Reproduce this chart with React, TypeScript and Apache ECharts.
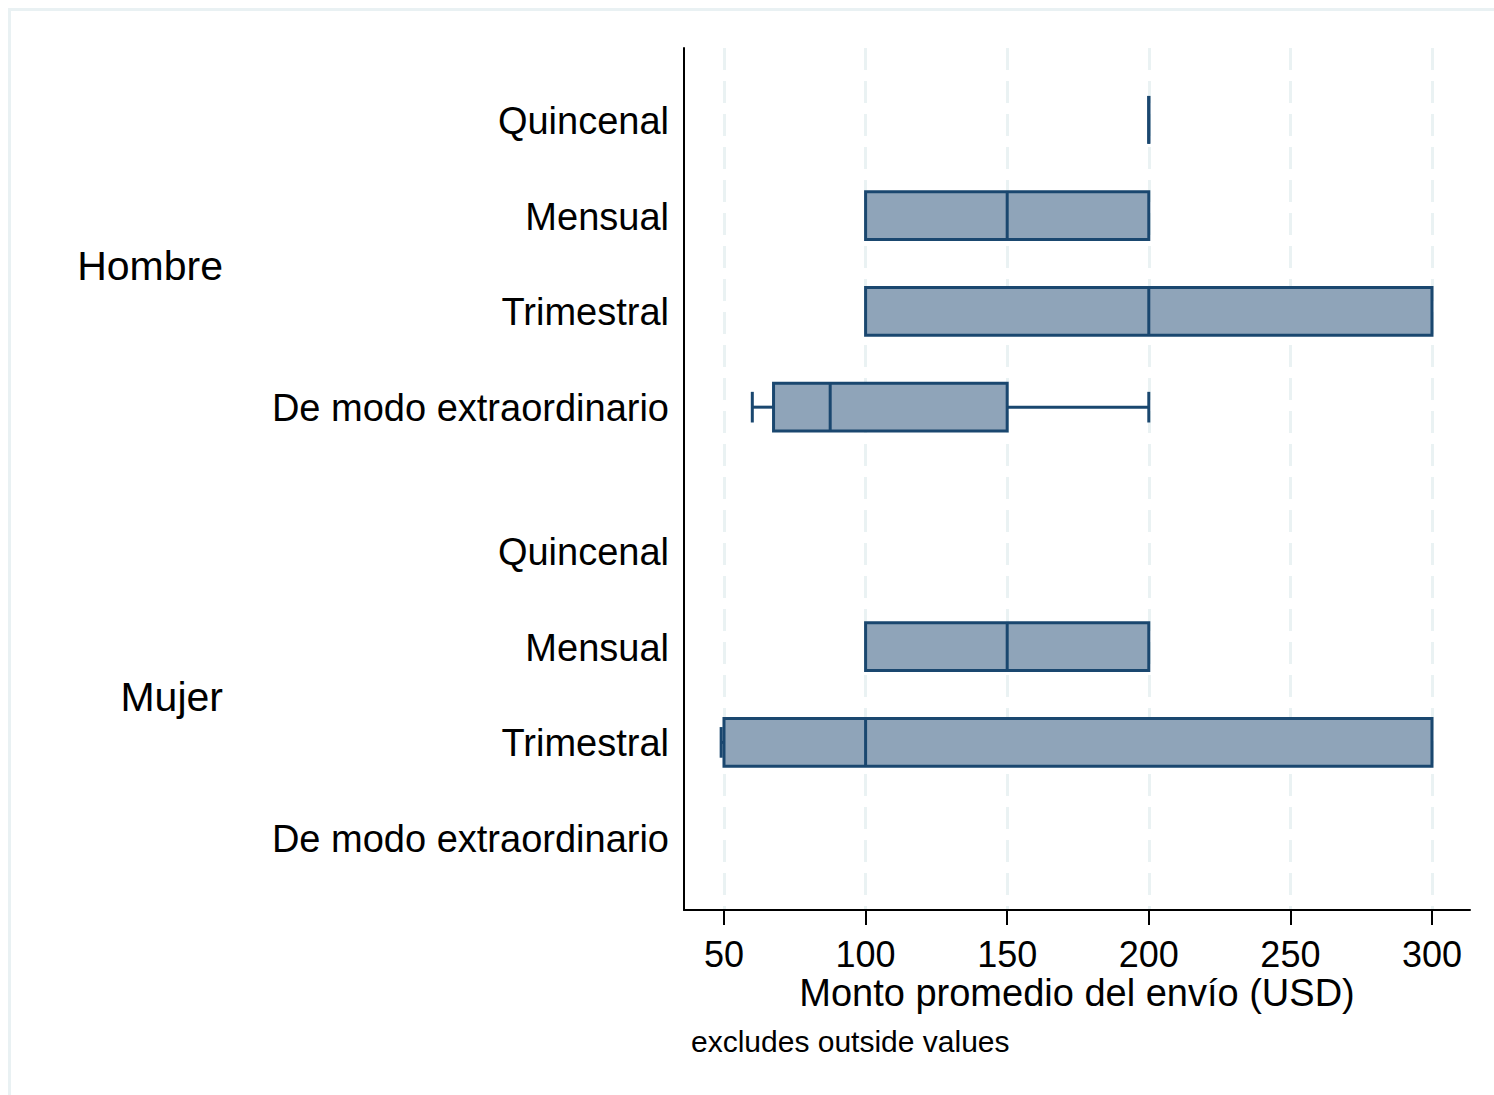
import React, { useEffect, useRef } from "react";
import * as echarts from "echarts";

// ---- data ----
const groups = ["Hombre", "Mujer"];
const groupCenters = [1.5, 6];
const categories = ["Quincenal", "Mensual", "Trimestral", "De modo extraordinario"];
const rowPositions = [0, 1, 2, 3, 4.5, 5.5, 6.5, 7.5];
const lowWhisker = [200, 100, 100, 60, null, 100, 49, null];
const q1 = [200, 100, 100, 67.5, null, 100, 50, null];
const median = [200, 150, 200, 87.5, null, 150, 100, null];
const q3 = [200, 200, 300, 150, null, 200, 300, null];
const highWhisker = [200, 200, 300, 200, null, 200, 300, null];
const xTicks = [50, 100, 150, 200, 250, 300];
const xMin = 35.88;
const xMax = 313.42;
const xTitle = "Monto promedio del envío (USD)";
const note = "excludes outside values";

export default function App() {
  const ref = useRef<HTMLDivElement>(null);
  useEffect(() => {
    const chart = echarts.init(ref.current!, null, { renderer: "svg" });
    const FONT = "'Liberation Sans', Arial, Helvetica, sans-serif";
    const STROKE = "#1a476f";
    const FILL = "#8fa4b9";

    const boxData: any[] = [];
    rowPositions.forEach((p, i) => {
      if (q1[i] !== null) {
        boxData.push([p, lowWhisker[i], q1[i], median[i], q3[i], highWhisker[i]]);
      }
    });
    const labelData = rowPositions.map((p, i) => [p, i % categories.length]);
    const groupData = groupCenters.map((c, i) => [c, i]);

    const option: any = {
      animation: false,
      backgroundColor: "#ffffff",
      grid: { left: 684, right: 24, top: 48, bottom: 185, containLabel: false },
      xAxis: {
        type: "value",
        min: xMin,
        max: xMax,
        axisLine: { show: true, onZero: false, lineStyle: { color: "#000", width: 2 } },
        axisTick: { show: true, length: 15, customValues: xTicks, lineStyle: { color: "#000", width: 2 } },
        axisLabel: { customValues: xTicks, fontSize: 36, lineHeight: 36, color: "#000", fontFamily: FONT, margin: 26 },
        splitLine: { show: true, lineStyle: { color: "#eaf2f3", width: 3, type: [22, 11] } },
        name: xTitle,
        nameLocation: "middle",
        nameGap: 64,
        nameMoveOverlap: false,
        nameTextStyle: { fontSize: 38, lineHeight: 38, color: "#000", fontFamily: FONT },
      },
      yAxis: {
        type: "value",
        inverse: true,
        min: -0.75,
        max: 8.25,
        axisLine: { show: true, onZero: false, lineStyle: { color: "#000", width: 2 } },
        axisTick: { show: false },
        axisLabel: { show: false },
        splitLine: { show: false },
      },
      graphic: [
        { type: "rect", shape: { x: 8, y: 8, width: 1486, height: 3 }, style: { fill: "#e9f1f3" }, silent: true },
        { type: "rect", shape: { x: 8, y: 8, width: 3, height: 1087 }, style: { fill: "#e9f1f3" }, silent: true },
        {
          type: "text",
          left: 691,
          top: 1026,
          style: { text: note, fontSize: 30, fontFamily: FONT, fill: "#000" },
        },
      ],
      series: [
        {
          type: "custom",
          name: "labels",
          data: labelData,
          encode: { x: -1, y: 0 },
          renderItem: (params: any, api: any) => {
            const pos = api.value(0);
            const idx = api.value(1);
            const pt = api.coord([xMin, pos]);
            return {
              type: "text",
              style: {
                text: categories[idx],
                x: pt[0] - 15,
                y: pt[1] + 1,
                align: "right",
                verticalAlign: "middle",
                fontSize: 38,
                fontFamily: FONT,
                fill: "#000",
              },
            };
          },
        },
        {
          type: "custom",
          name: "groups",
          data: groupData,
          encode: { x: -1, y: 0 },
          renderItem: (params: any, api: any) => {
            const pos = api.value(0);
            const idx = api.value(1);
            const pt = api.coord([xMin, pos]);
            return {
              type: "text",
              style: {
                text: groups[idx],
                x: pt[0] - 461,
                y: pt[1] + 2,
                align: "right",
                verticalAlign: "middle",
                fontSize: 41,
                fontFamily: FONT,
                fill: "#000",
              },
            };
          },
        },
        {
          type: "custom",
          name: "boxes",
          data: boxData,
          encode: { x: [1, 2, 3, 4, 5], y: 0 },
          z: 3,
          renderItem: (params: any, api: any) => {
            const pos = api.value(0);
            const lw = api.value(1);
            const a = api.value(2);
            const m = api.value(3);
            const b = api.value(4);
            const hw = api.value(5);
            const yc = api.coord([a, pos])[1];
            const boxH = Math.abs(api.size([0, 0.25])[1]);
            const capH = Math.abs(api.size([0, 0.16])[1]);
            const X = (v: number) => api.coord([v, pos])[0];
            const ls = { stroke: STROKE, lineWidth: 3 };
            const children: any[] = [];
            if (lw < a) {
              children.push({ type: "line", shape: { x1: X(lw), y1: yc, x2: X(a), y2: yc }, style: ls });
              children.push({ type: "line", shape: { x1: X(lw), y1: yc - capH, x2: X(lw), y2: yc + capH }, style: ls });
            }
            if (hw > b) {
              children.push({ type: "line", shape: { x1: X(b), y1: yc, x2: X(hw), y2: yc }, style: ls });
              children.push({ type: "line", shape: { x1: X(hw), y1: yc - capH, x2: X(hw), y2: yc + capH }, style: ls });
            }
            children.push({
              type: "rect",
              shape: { x: X(a), y: yc - boxH, width: X(b) - X(a), height: 2 * boxH },
              style: { fill: FILL, stroke: STROKE, lineWidth: 3 },
            });
            children.push({ type: "line", shape: { x1: X(m), y1: yc - boxH, x2: X(m), y2: yc + boxH }, style: ls });
            return { type: "group", children };
          },
        },
      ],
    };
    chart.setOption(option);
    return () => chart.dispose();
  }, []);
  return (
    <div
      ref={ref}
      style={{ position: "absolute", left: 0, top: 0, width: 1494, height: 1095 }}
    />
  );
}
